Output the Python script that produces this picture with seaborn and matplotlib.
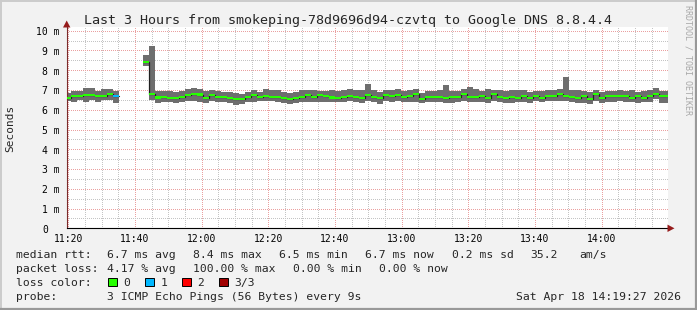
import numpy as np
import pandas as pd
import matplotlib
matplotlib.use("Agg")
import matplotlib.pyplot as plt
from matplotlib.patches import Polygon, Rectangle
from matplotlib.lines import Line2D
from matplotlib.ticker import FixedLocator, MultipleLocator
import matplotlib.transforms as mtransforms
import seaborn as sns

# ---------------- data ----------------
TITLE = "Last 3 Hours from smokeping-78d9696d94-czvtq to Google DNS 8.8.4.4"
FIRST_BIN = "11:19:06"          # start time of the first consolidated bin
STEP_SECONDS = 108              # rrd step of each bin
WINDOW_START = "11:19:30"
WINDOW_END = "14:20:00"

nan = np.nan
ping_min = [6.44, 6.41, 6.49, 6.41, 6.49, 6.41, 6.49, 6.49, 6.36, nan,
            nan, nan, nan, 8.23, 6.49, 6.36, 6.41, 6.41, 6.36, 6.41,
            6.43, 6.46, 6.41, 6.36, 6.45, 6.41, 6.41, 6.35, 6.22, 6.28,
            6.41, 6.41, 6.45, 6.45, 6.42, 6.40, 6.34, 6.28, 6.34, 6.41,
            6.41, 6.38, 6.41, 6.41, 6.40, 6.41, 6.41, 6.44, 6.41, 6.34,
            6.42, 6.41, 6.27, 6.44, 6.37, 6.44, 6.37, 6.41, 6.41, 6.32,
            6.37, 6.41, 6.37, 6.32, 6.32, 6.41, 6.44, 6.41, 6.37, 6.37,
            6.32, 6.44, 6.41, 6.32, 6.36, 6.39, 6.41, 6.36, 6.46, 6.41,
            6.46, 6.46, 6.46, 6.46, 6.41, 6.36, 6.36, 6.29, 6.46, 6.36,
            6.41, 6.41, 6.46, 6.41, 6.41, 6.36, 6.41, 6.41, 6.53, 6.36,
            6.36]
ping_max = [6.86, 6.97, 6.97, 7.08, 7.08, 6.97, 7.03, 7.03, 6.97, nan,
            nan, nan, nan, 8.77, 9.23, 6.96, 6.96, 6.94, 6.91, 6.94,
            7.03, 7.08, 7.05, 6.94, 7.00, 6.97, 6.92, 6.88, 6.83, 6.82,
            6.91, 7.00, 6.91, 7.04, 6.98, 6.98, 6.90, 6.85, 6.88, 6.98,
            7.00, 6.98, 6.97, 6.96, 7.00, 6.93, 7.02, 7.05, 7.00, 6.98,
            7.29, 7.00, 6.91, 7.00, 7.00, 7.05, 6.95, 7.00, 7.05, 6.83,
            6.95, 6.95, 7.00, 7.25, 6.95, 6.95, 7.05, 7.17, 7.05, 6.95,
            7.05, 7.00, 7.00, 6.95, 7.00, 6.99, 7.00, 6.91, 6.97, 6.97,
            7.00, 7.00, 7.03, 7.67, 7.00, 7.00, 6.97, 6.91, 7.00, 6.91,
            6.97, 6.97, 7.00, 6.97, 7.00, 6.91, 6.97, 7.00, 7.08, 6.97,
            6.97]
median_ms = [6.61, 6.70, 6.70, 6.73, 6.73, 6.70, 6.70, 6.80, 6.70, nan,
             nan, nan, nan, 8.42, 6.78, 6.62, 6.66, 6.61, 6.61, 6.66,
             6.75, 6.80, 6.77, 6.61, 6.73, 6.66, 6.66, 6.61, 6.55, 6.53,
             6.64, 6.73, 6.64, 6.68, 6.66, 6.66, 6.61, 6.55, 6.61, 6.65,
             6.75, 6.66, 6.75, 6.71, 6.62, 6.61, 6.66, 6.71, 6.66, 6.61,
             6.73, 6.66, 6.58, 6.75, 6.71, 6.75, 6.66, 6.71, 6.80, 6.54,
             6.66, 6.66, 6.66, 6.61, 6.66, 6.66, 6.80, 6.66, 6.66, 6.71,
             6.61, 6.78, 6.66, 6.61, 6.66, 6.58, 6.71, 6.61, 6.71, 6.61,
             6.71, 6.71, 6.78, 6.71, 6.66, 6.58, 6.70, 6.54, 6.78, 6.61,
             6.71, 6.71, 6.71, 6.71, 6.61, 6.70, 6.61, 6.71, 6.80, 6.71,
             6.71]
lost_pings = [0, 0, 0, 0, 0, 0, 0, 0, 1, 3,
              3, 3, 3, 0, 0, 0, 0, 0, 0, 0,
              0, 0, 0, 0, 0, 0, 0, 0, 0, 0,
              0, 0, 0, 0, 0, 0, 0, 0, 0, 0,
              0, 0, 0, 0, 0, 0, 0, 0, 0, 0,
              0, 0, 0, 0, 0, 0, 0, 0, 0, 0,
              0, 0, 0, 0, 0, 0, 0, 0, 0, 0,
              0, 0, 0, 0, 0, 0, 0, 0, 0, 0,
              0, 0, 0, 0, 0, 0, 0, 0, 0, 0,
              0, 0, 0, 0, 0, 0, 0, 0, 0, 0,
              0]

y_ticks = [0, 1, 2, 3, 4, 5, 6, 7, 8, 9, 10]
y_tick_labels = ["0", "1 m", "2 m", "3 m", "4 m", "5 m", "6 m", "7 m", "8 m", "9 m", "10 m"]
x_tick_labels = ["11:20", "11:40", "12:00", "12:20", "12:40", "13:00", "13:20", "13:40", "14:00"]
loss_labels = ["0", "1", "2", "3/3"]

legend_line1 = ["median rtt:", "6.7 ms avg", "8.4 ms max", "6.5 ms min",
                "6.7 ms now", "0.2 ms sd", "35.2", "am/s"]
legend_line2 = ["packet loss:", "4.17 % avg", "100.00 % max", "0.00 % min", "0.00 % now"]
probe_label = "probe:"
probe_text = "3 ICMP Echo Pings (56 Bytes) every 9s"
stamp_text = "Sat Apr 18 14:19:27 2026"
y_label = "Seconds"
watermark = "RRDTOOL / TOBI OETIKER"

# ---------------- styles ----------------
W, H = 697, 310
BACK = "#f2f2f2"
SMOKE = "#6e6e6e"
LOSS_COLORS = ["#26ff00", "#00b8ff", "#ff0000", "#a10000"]
MGRID = "#eaa0a0"
GRID = "#c4c4c4"
ARROW = "#961c1c"
MONO = ["DejaVu Sans Mono"]


def minutes(hms):
    h, m, s = (int(p) for p in hms.split(":"))
    return (h - 11) * 60 + m + s / 60.0


sns.set_theme(style="white")
plt.rcParams["font.family"] = MONO
plt.rcParams["axes.unicode_minus"] = False

step_min = STEP_SECONDS / 60.0
t0 = minutes(FIRST_BIN)
n = len(median_ms)
df = pd.DataFrame({
    "start": [t0 + k * step_min for k in range(n)],
    "lo": ping_min, "hi": ping_max, "med": median_ms, "loss": lost_pings,
})

fig = plt.figure(figsize=(W / 100, H / 100), dpi=100, facecolor=BACK)


def fx(px):
    return px / W


def fy(py):
    return 1 - py / H


ax_left, ax_right, ax_top, ax_bot = 66.7, 668.3, 27.0, 228.3
ax = fig.add_axes([fx(ax_left), fy(ax_bot), fx(ax_right) - fx(ax_left), fy(ax_top) - fy(ax_bot)])
ax.set_facecolor("white")

px_per_ms = 19.76
ymax = (ax_bot - ax_top) / px_per_ms
ax.set_xlim(minutes(WINDOW_START), minutes(WINDOW_END))
ax.set_ylim(0, ymax)

# grid (rrdtool-like sparse dots)
ax.xaxis.set_major_locator(FixedLocator([20 * (i + 1) for i in range(len(x_tick_labels))]))
ax.xaxis.set_minor_locator(MultipleLocator(5))
ax.yaxis.set_major_locator(FixedLocator(y_ticks))
ax.yaxis.set_minor_locator(MultipleLocator(0.5))
ax.set_axisbelow(True)
ax.grid(which="minor", color=GRID, lw=0.72, ls=(0, (1, 2)), antialiased=False)
ax.grid(which="major", color=MGRID, lw=0.72, ls=(0, (1, 2)), antialiased=False)

# smoke
valid = df.dropna(subset=["med"])
ax.bar(valid["start"], valid["hi"] - valid["lo"], bottom=valid["lo"], width=step_min,
       align="edge", color=SMOKE, linewidth=0, antialiased=False, zorder=2)

# black median step line (segments broken on gaps)
rows = []
seg = 0
prev = False
for k in range(n):
    if np.isnan(median_ms[k]):
        prev = False
        continue
    if not prev:
        seg += 1
    s = df["start"][k]
    rows.append((seg, s, median_ms[k]))
    rows.append((seg, s + step_min, median_ms[k]))
    prev = True
steps = pd.DataFrame(rows, columns=["seg", "t", "ms"])
sns.lineplot(data=steps, x="t", y="ms", units="seg", estimator=None, sort=False,
             color="#202020", lw=0.9, ax=ax, legend=False, zorder=3)

# colored median band
band = 2.2 / px_per_ms
ax.bar(valid["start"], band, bottom=valid["med"] - band / 2, width=step_min, align="edge",
       color=[LOSS_COLORS[int(l)] for l in valid["loss"]], linewidth=0,
       antialiased=False, zorder=4)

ax.set_xlabel("")
ax.set_ylabel("")

# axes / ticks
for side in ("top", "right"):
    ax.spines[side].set_visible(False)
ax.spines["bottom"].set_color("black")
ax.spines["bottom"].set_linewidth(0.8)
ax.spines["left"].set_color("#7a2a2a")
ax.spines["left"].set_linewidth(0.8)
ax.set_xticks(ax.get_xticks(), x_tick_labels)
ax.tick_params(axis="x", which="major", length=1.6, width=0.7, color="#8a3030",
               pad=2.4, labelsize=7, labelcolor="black")
ax.tick_params(axis="x", which="minor", length=1.6, width=0.7, color="#aaaaaa")
ax.tick_params(axis="y", which="both", length=1.6, width=0.7, color="#aaaaaa", labelleft=False)
for lab in ax.get_xticklabels():
    lab.set_family(MONO)

# y tick labels (rrdtool style: digits aligned, "0" without unit)
ytr = mtransforms.blended_transform_factory(fig.transFigure, ax.transData)
for v, lab in zip(y_ticks, y_tick_labels):
    xr = 59.6 if lab.endswith("m") else 48.2
    ax.text(fx(xr), v - 4.3 / px_per_ms, lab, transform=ytr, ha="right", va="baseline",
            fontsize=7, family=MONO, color="black", clip_on=False)

# arrows
fig.add_artist(Polygon([[fx(66.7), fy(20.5)], [fx(63.0), fy(27.5)], [fx(70.4), fy(27.5)]],
                       closed=True, color=ARROW, transform=fig.transFigure, lw=0))
fig.add_artist(Polygon([[fx(674.5), fy(228.3)], [fx(667.5), fy(224.6)], [fx(667.5), fy(232.0)]],
                       closed=True, color=ARROW, transform=fig.transFigure, lw=0))

# texts
fig.text(fx(348.5), fy(24.0), TITLE, ha="center", va="baseline", fontsize=9.6, family=MONO)
fig.text(fx(10.0), fy(128.5), y_label, ha="center", va="center", rotation=90, fontsize=8, family=MONO)
fig.text(fx(687.7), fy(60.0), watermark, ha="center", va="center", rotation=270,
         fontsize=6, family=MONO, color="#a8a8a8")

fs = 8.2
x1 = [16, 107.3, 193.3, 279.3, 365, 451.7, 530, 579.3]
for xx, s in zip(x1, legend_line1):
    fig.text(fx(xx), fy(258.3), s, ha="left", va="baseline", fontsize=fs, family=MONO)
x2 = [16, 107.3, 193.3, 292.7, 379.3]
for xx, s in zip(x2, legend_line2):
    fig.text(fx(xx), fy(272.3), s, ha="left", va="baseline", fontsize=fs, family=MONO)
fig.text(fx(16), fy(286.2), "loss color:", ha="left", va="baseline", fontsize=fs, family=MONO)
box_x = [108.3, 145.3, 182.3, 219.3]
for i, (bx, lab) in enumerate(zip(box_x, loss_labels)):
    fig.add_artist(Rectangle((fx(bx), fy(286.3)), fx(8.4), 8.4 / H, transform=fig.transFigure,
                             facecolor=LOSS_COLORS[i], edgecolor="black", lw=0.7))
    fig.text(fx(bx + 15), fy(286.2), lab, ha="left", va="baseline", fontsize=fs, family=MONO)
fig.text(fx(16), fy(300.0), probe_label, ha="left", va="baseline", fontsize=fs, family=MONO)
fig.text(fx(107.3), fy(300.0), probe_text, ha="left", va="baseline", fontsize=fs, family=MONO)
fig.text(fx(680.5), fy(300.0), stamp_text, ha="right", va="baseline", fontsize=fs, family=MONO)

# 3D frame
fig.add_artist(Line2D([0, 1], [fy(0.5), fy(0.5)], transform=fig.transFigure, color="#cbcbcb", lw=1.4))
fig.add_artist(Line2D([fx(0.5), fx(0.5)], [0, 1], transform=fig.transFigure, color="#cbcbcb", lw=1.4))
fig.add_artist(Line2D([0, 1], [fy(309), fy(309)], transform=fig.transFigure, color="#999999", lw=1.6))
fig.add_artist(Line2D([fx(696), fx(696)], [0, 1], transform=fig.transFigure, color="#999999", lw=1.6))

fig.savefig("out.png", dpi=100, facecolor=BACK)
